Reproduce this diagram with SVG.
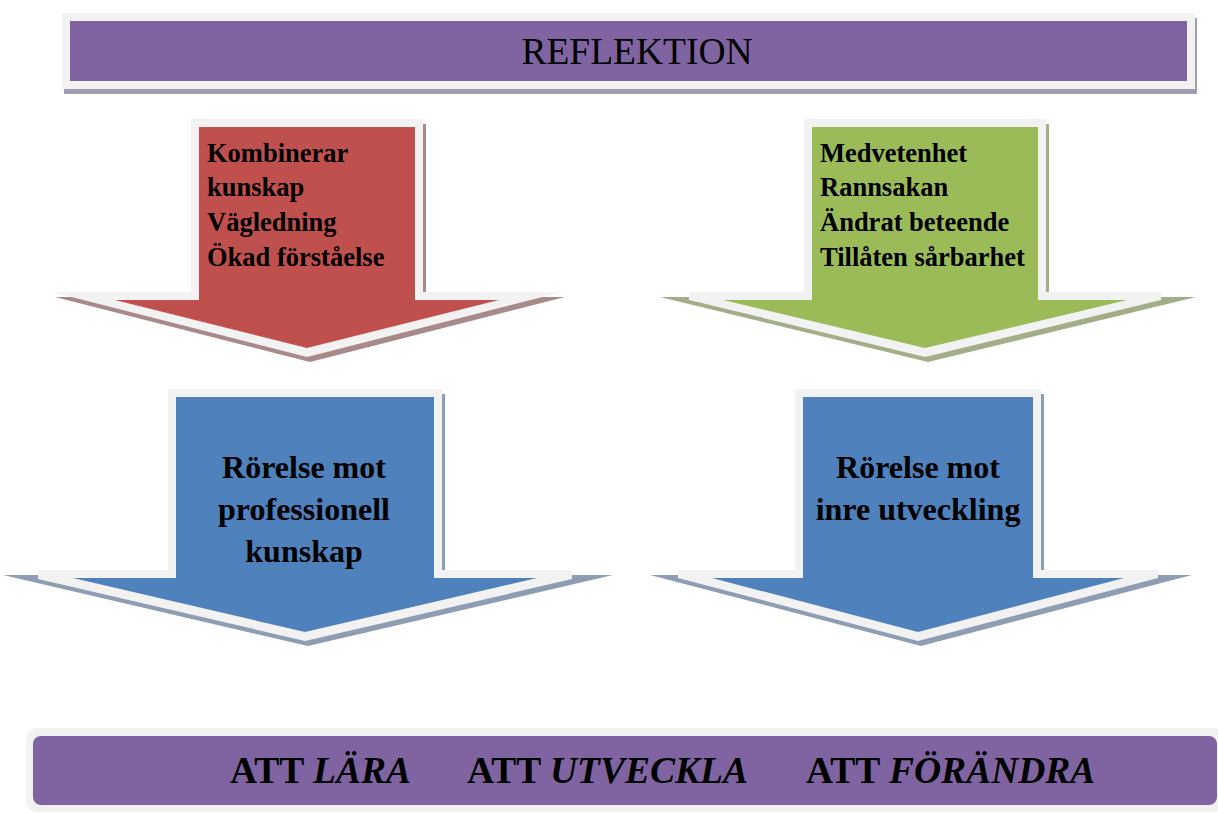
<svg xmlns="http://www.w3.org/2000/svg" width="1218" height="813" viewBox="0 0 1218 813">
<style>
.frame{fill:#f2f2f2}
.red{fill:#c0504d}
.green{fill:#9bbb59}
.blue{fill:#4f81bd}
.purple{fill:#8064a2}
.sh-red{fill:#a98a8a}
.sh-green{fill:#a3ad88}
.sh-blue{fill:#8f9db3}
.sh-purple{fill:#a39bae}
text{font-family:"Liberation Serif","Times New Roman",serif;fill:#000}
.list{font-size:26.5px;font-weight:bold}
.mid{font-size:32px;font-weight:bold;text-anchor:middle}
.bot{font-size:37.5px;font-weight:bold}
</style>
<rect width="1218" height="813" fill="#ffffff"/>
<g id="reflektion">
<rect class="sh-purple" x="64" y="18" width="1133" height="76"/>
<rect class="frame" x="62" y="13" width="1133" height="76"/>
<rect class="purple" x="70" y="21" width="1117" height="60"/>
<text x="637" y="64" font-size="37.5" text-anchor="middle">REFLEKTION</text>
</g>
<g id="arrow-kunskap">
<polygon class="sh-red" points="194,124 426,124 426,297 565,297 310,362 55,297 194,297"/>
<polygon class="frame" points="191,119 423,119 423,292 562,292 307,357 52,292 191,292"/>
<polygon class="red" points="199,127 415,127 415,300 499,300 307,348 115,300 199,300"/>
<text class="list" x="207" y="162">Kombinerar</text>
<text class="list" x="207" y="196">kunskap</text>
<text class="list" x="207" y="231">Vägledning</text>
<text class="list" x="207" y="266">Ökad förståelse</text>
</g>
<g id="arrow-medvetenhet">
<polygon class="sh-green" points="807,124 1049,124 1049,297 1196,297 928,362 660,297 807,297"/>
<polygon class="frame" points="804,119 1046,119 1046,292 1161,292 1161,300 925,357 689,300 689,292 804,292"/>
<polygon class="green" points="812,127 1038,127 1038,300 1127,300 925,348 723,300 812,300"/>
<text class="list" x="820" y="162">Medvetenhet</text>
<text class="list" x="820" y="196">Rannsakan</text>
<text class="list" x="820" y="231">Ändrat beteende</text>
<text class="list" x="820" y="266">Tillåten sårbarhet</text>
</g>
<g id="arrow-professionell">
<polygon class="sh-blue" points="171,394 445,394 445,575 613,575 308,646 3,575 171,575"/>
<polygon class="frame" points="168,389 442,389 442,570 572,570 572,579 305,641 38,579 38,570 168,570"/>
<polygon class="blue" points="176,397 434,397 434,578 537,578 305,632 73,578 176,578"/>
<text class="mid" x="304" y="478">Rörelse mot</text>
<text class="mid" x="304" y="520">professionell</text>
<text class="mid" x="304" y="562">kunskap</text>
</g>
<g id="arrow-inre">
<polygon class="sh-blue" points="798,394 1044,394 1044,575 1192,575 921,646 650,575 798,575"/>
<polygon class="frame" points="795,389 1041,389 1041,570 1158,570 1158,578 918,641 678,578 678,570 795,570"/>
<polygon class="blue" points="803,397 1033,397 1033,578 1124,578 918,632 712,578 803,578"/>
<text class="mid" x="918" y="478">Rörelse mot</text>
<text class="mid" x="918" y="520">inre utveckling</text>
</g>
<g id="att">
<rect class="frame" x="26" y="728" width="1200" height="84" rx="12"/>
<rect class="purple" x="33" y="736" width="1184" height="69" rx="8"/>
<text class="bot" x="230" y="783">ATT <tspan font-style="italic">LÄRA</tspan></text>
<text class="bot" x="467" y="783">ATT <tspan font-style="italic">UTVECKLA</tspan></text>
<text class="bot" x="806" y="783">ATT <tspan font-style="italic">FÖRÄNDRA</tspan></text>
</g>
<g id="connectors"/>
</svg>
